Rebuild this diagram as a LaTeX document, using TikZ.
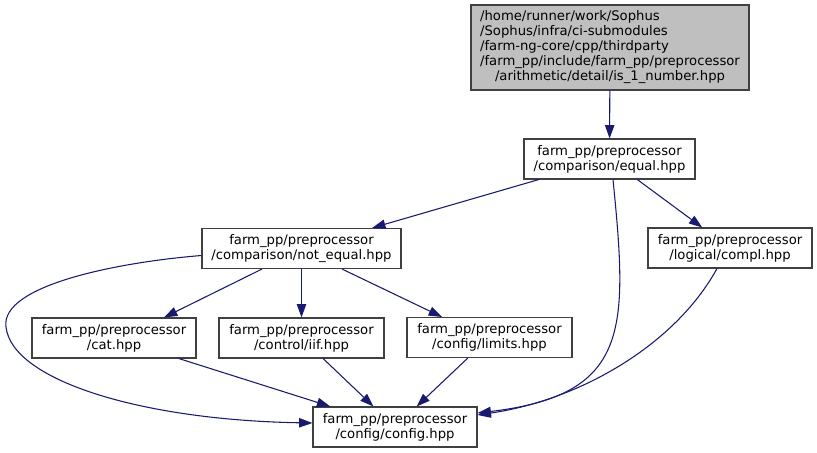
\documentclass[tikz,border=0pt]{standalone}
\usepackage{fontspec}
\setmainfont{DejaVu Sans}
\usepackage{xcolor}
\usetikzlibrary{calc, arrows.meta}

\definecolor{edgeblue}{HTML}{191970}
\definecolor{rootgray}{HTML}{BFBFBF}

\begin{document}
\begin{tikzpicture}[x=0.75pt, y=-0.75pt,
        file/.style={draw=black!75, line width=0.8pt, fill=white, align=center, inner sep=0pt,
            minimum height=30pt, font=\fontsize{9.9}{11.2}\selectfont},
        dep/.style={draw=edgeblue, line width=0.8pt, -{Triangle[length=10pt,width=7pt]}}]
        \useasboundingbox (0,0) rectangle (817,453);
        % files
        \node[file, fill=rootgray, minimum width=208.5pt, minimum height=63.75pt] (root) at (610,47.5)
            {\begin{tabular}{@{}l@{}}
             /home/runner/work/Sophus\\
             /Sophus/infra/ci-submodules\\
             /farm-ng-core/cpp/thirdparty\\
             /farm\_pp/include/farm\_pp/preprocessor\\
             \multicolumn{1}{@{}c@{}}{/arithmetic/detail/is\_1\_number.hpp}
             \end{tabular}};
        \node[file, minimum width=128.25pt] (equal) at (609.5,159) {farm\_pp/preprocessor\\/comparison/equal.hpp};
        \node[file, minimum width=149.25pt] (ne) at (301.5,248.5) {farm\_pp/preprocessor\\/comparison/not\_equal.hpp};
        \node[file, minimum width=123pt] (compl) at (730,248) {farm\_pp/preprocessor\\/logical/compl.hpp};
        \node[file, minimum width=123pt] (cat) at (114,338) {farm\_pp/preprocessor\\/cat.hpp};
        \node[file, minimum width=123.75pt] (iif) at (301.5,338) {farm\_pp/preprocessor\\/control/iif.hpp};
        \node[file, minimum width=123.75pt] (limits) at (489.5,337.5) {farm\_pp/preprocessor\\/config/limits.hpp};
        \node[file, minimum width=123pt] (config) at (395,427) {farm\_pp/preprocessor\\/config/config.hpp};
        % includes
        \draw[dep] (root) -- (equal);
        \draw[dep] (equal) -- (ne);
        \draw[dep] (equal) -- (compl);
        \draw[dep] ($(equal.south)+(3.5,0)$) .. controls (628,330) and (630,395) .. ($(config.east)+(0,-14)$);
        \draw[dep] ($(ne.south)+(-39.5,0)$) -- ($(cat.north)+(50,0)$);
        \draw[dep] (ne) -- (iif);
        \draw[dep] ($(ne.south)+(40.5,0)$) -- ($(limits.north)+(-47.5,0)$);
        \draw[dep] ($(ne.west)+(0,7)$) .. controls (120,262) and (0,285) .. (6,327)
            .. controls (12,380) and (140,420) .. ($(config.west)+(0,-4)$);
        \draw[dep] (cat) -- (config);
        \draw[dep] (iif) -- (config);
        \draw[dep] (limits) -- (config);
        \draw[dep] ($(compl.south)+(-13,0)$) .. controls (675,345) and (580,400) .. ($(config.east)+(0,-12)$);
    \end{tikzpicture}
\end{document}
